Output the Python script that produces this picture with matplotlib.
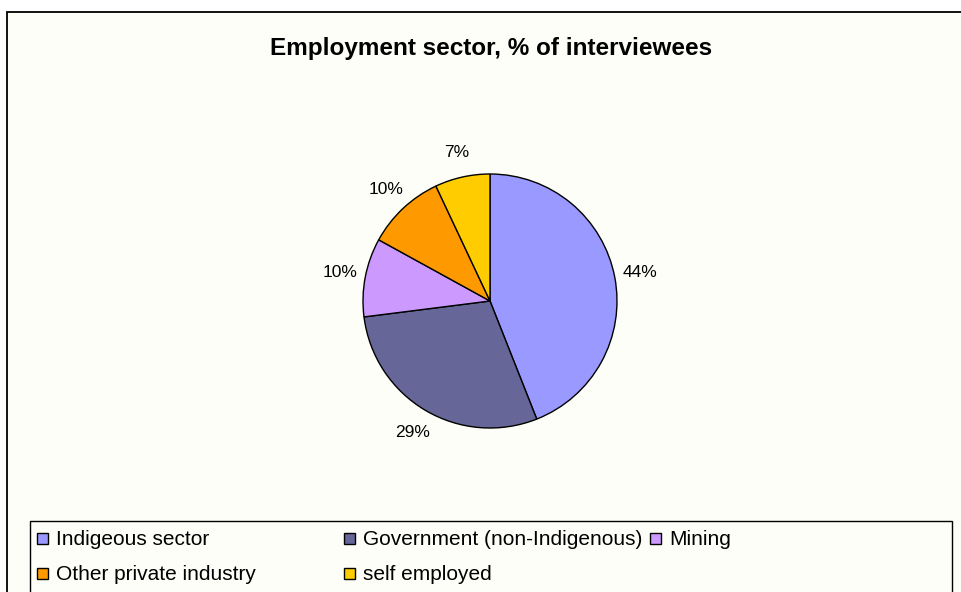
import matplotlib
matplotlib.use("Agg")
import matplotlib.pyplot as plt
from matplotlib.patches import Rectangle

# employment sector shares
sectors = ["Indigeous sector", "Government (non-Indigenous)", "Mining",
           "Other private industry", "self employed"]
shares = [44, 29, 10, 10, 7]
colors = ["#9999FF", "#666699", "#CC99FF", "#FF9900", "#FFCC00"]

W, H = 962, 592
bg = "#FEFEF8"
plt.rcParams["font.family"] = ["Liberation Sans", "DejaVu Sans"]

fig = plt.figure(figsize=(W / 100, H / 100), dpi=100)
fig.patch.set_facecolor("white")

# full-size overlay in pixel units for the frame, title and legend
base = fig.add_axes([0, 0, 1, 1])
base.set_xlim(0, W)
base.set_ylim(H, 0)
base.axis("off")
base.add_patch(Rectangle((7, 12), W + 20, H + 20, facecolor=bg,
                         edgecolor="black", linewidth=1.3))
base.add_patch(Rectangle((30, 521), 922, H + 20, facecolor=bg,
                         edgecolor="black", linewidth=1.0))
base.text(491.5, 55, "Employment sector, % of interviewees", ha="center",
          va="baseline", fontsize=17.5, fontweight="bold")

# legend entries laid out row by row
col_x = [37, 344, 650]
row_y = [545, 580]
for i, (name, c) in enumerate(zip(sectors, colors)):
    x = col_x[i % 3]
    y = row_y[i // 3]
    base.add_patch(Rectangle((x, y - 12), 11, 11, facecolor=c,
                             edgecolor="black", linewidth=1.0))
    base.text(x + 19, y, name, ha="left", va="baseline", fontsize=15)

# pie, clockwise from 12 o'clock
r = 127
cx, cy = 490, 301
side = 2.5 * r
ax = fig.add_axes([(cx - side / 2) / W, (H - cy - side / 2) / H, side / W, side / H])
ax.pie(shares, colors=colors, startangle=90, counterclock=False,
       autopct="%1.0f%%", pctdistance=1.2,
       wedgeprops=dict(edgecolor="black", linewidth=1.0),
       textprops=dict(fontsize=12.5))
ax.set_xlim(-1.25, 1.25)
ax.set_ylim(-1.25, 1.25)
ax.set_aspect("auto")
ax.patch.set_alpha(0)

fig.savefig("out.png", dpi=100, facecolor="white")
